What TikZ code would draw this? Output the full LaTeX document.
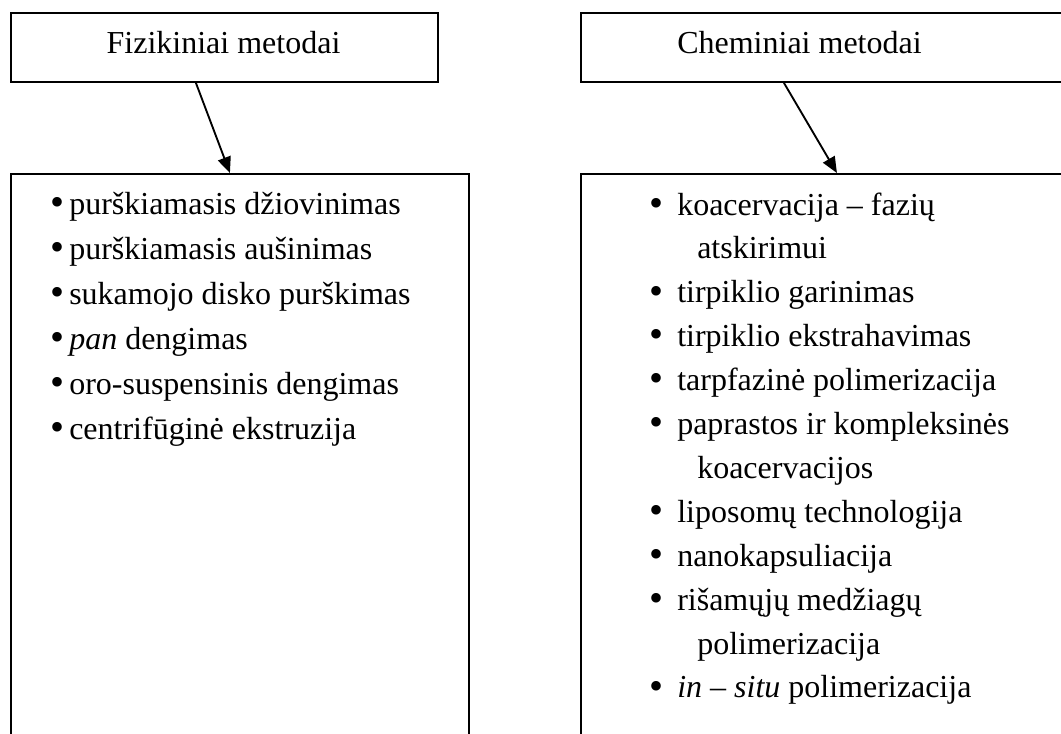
\documentclass[tikz,border=0pt]{standalone}
\usepackage{fontspec}
\setmainfont{Liberation Serif}
\usetikzlibrary{positioning,arrows.meta}

\newcommand{\bul}[1]{\makebox[#1][l]{\raisebox{-0.9pt}{\scalebox{1.25}{•}}}}

\begin{document}
\begin{tikzpicture}[
    x=0.75pt, y=-0.75pt,
    box/.style={draw, line width=1.4pt, inner sep=0pt, anchor=north west},
    title/.style={anchor=base, inner sep=0pt, font=\fontsize{24}{30}\selectfont},
    item/.style={anchor=base west, inner sep=0pt, font=\fontsize{24}{30}\selectfont},
    arrow/.style={-{Triangle[length=12pt, width=10pt]}, line width=1.4pt}
]
\clip (0,0) rectangle (1061,733);

% top boxes
\node[box, minimum width=320.25pt, minimum height=51.75pt] (fiz) at (10,12) {};
\node[box, minimum width=390pt, minimum height=51.75pt] (chem) at (580,12) {};
\node[title] (fiztitle) at (223.5,53) {Fizikiniai metodai};
\node[title, anchor=base west] (chemtitle) at (677,53) {Cheminiai metodai};

% list boxes
\node[box, minimum width=343.5pt, minimum height=440.25pt] (fizlist) at (10,173) {};
\node[box, minimum width=390pt, minimum height=440.25pt] (chemlist) at (580,173) {};

\draw[arrow] ([xshift=-21.4pt]fiz.south) -- ([xshift=-7.5pt]fizlist.north);
\draw[arrow] ([xshift=-42.75pt]chem.south) -- ([xshift=-3pt]chemlist.north);

% physical methods
\foreach \t [count=\i] in {purškiamasis džiovinimas, purškiamasis aušinimas,
    sukamojo disko purškimas, \textit{pan} dengimas,
    oro-suspensinis dengimas, centrifūginė ekstruzija}
  \node[item] (f\i) at (50,169.5+45*\i) {\bul{14.25pt}\t};

% chemical methods
\node[item] (c1) at (649,215) {\bul{21pt}koacervacija – fazių};
\node[item] (c1b) at (697,258.9) {atskirimui};
\node[item] (c2) at (649,302.8) {\bul{21pt}tirpiklio garinimas};
\node[item] (c3) at (649,346.7) {\bul{21pt}tirpiklio ekstrahavimas};
\node[item] (c4) at (649,390.6) {\bul{21pt}tarpfazinė polimerizacija};
\node[item] (c5) at (649,434.5) {\bul{21pt}paprastos ir kompleksinės};
\node[item] (c5b) at (697,478.4) {koacervacijos};
\node[item] (c6) at (649,522.3) {\bul{21pt}liposomų technologija};
\node[item] (c7) at (649,566.2) {\bul{21pt}nanokapsuliacija};
\node[item] (c8) at (649,610.1) {\bul{21pt}rišamųjų medžiagų};
\node[item] (c8b) at (697,654) {polimerizacija};
\node[item] (c9) at (649,697.9) {\bul{21pt}\textit{in} – \textit{situ} polimerizacija};
\end{tikzpicture}
\end{document}
